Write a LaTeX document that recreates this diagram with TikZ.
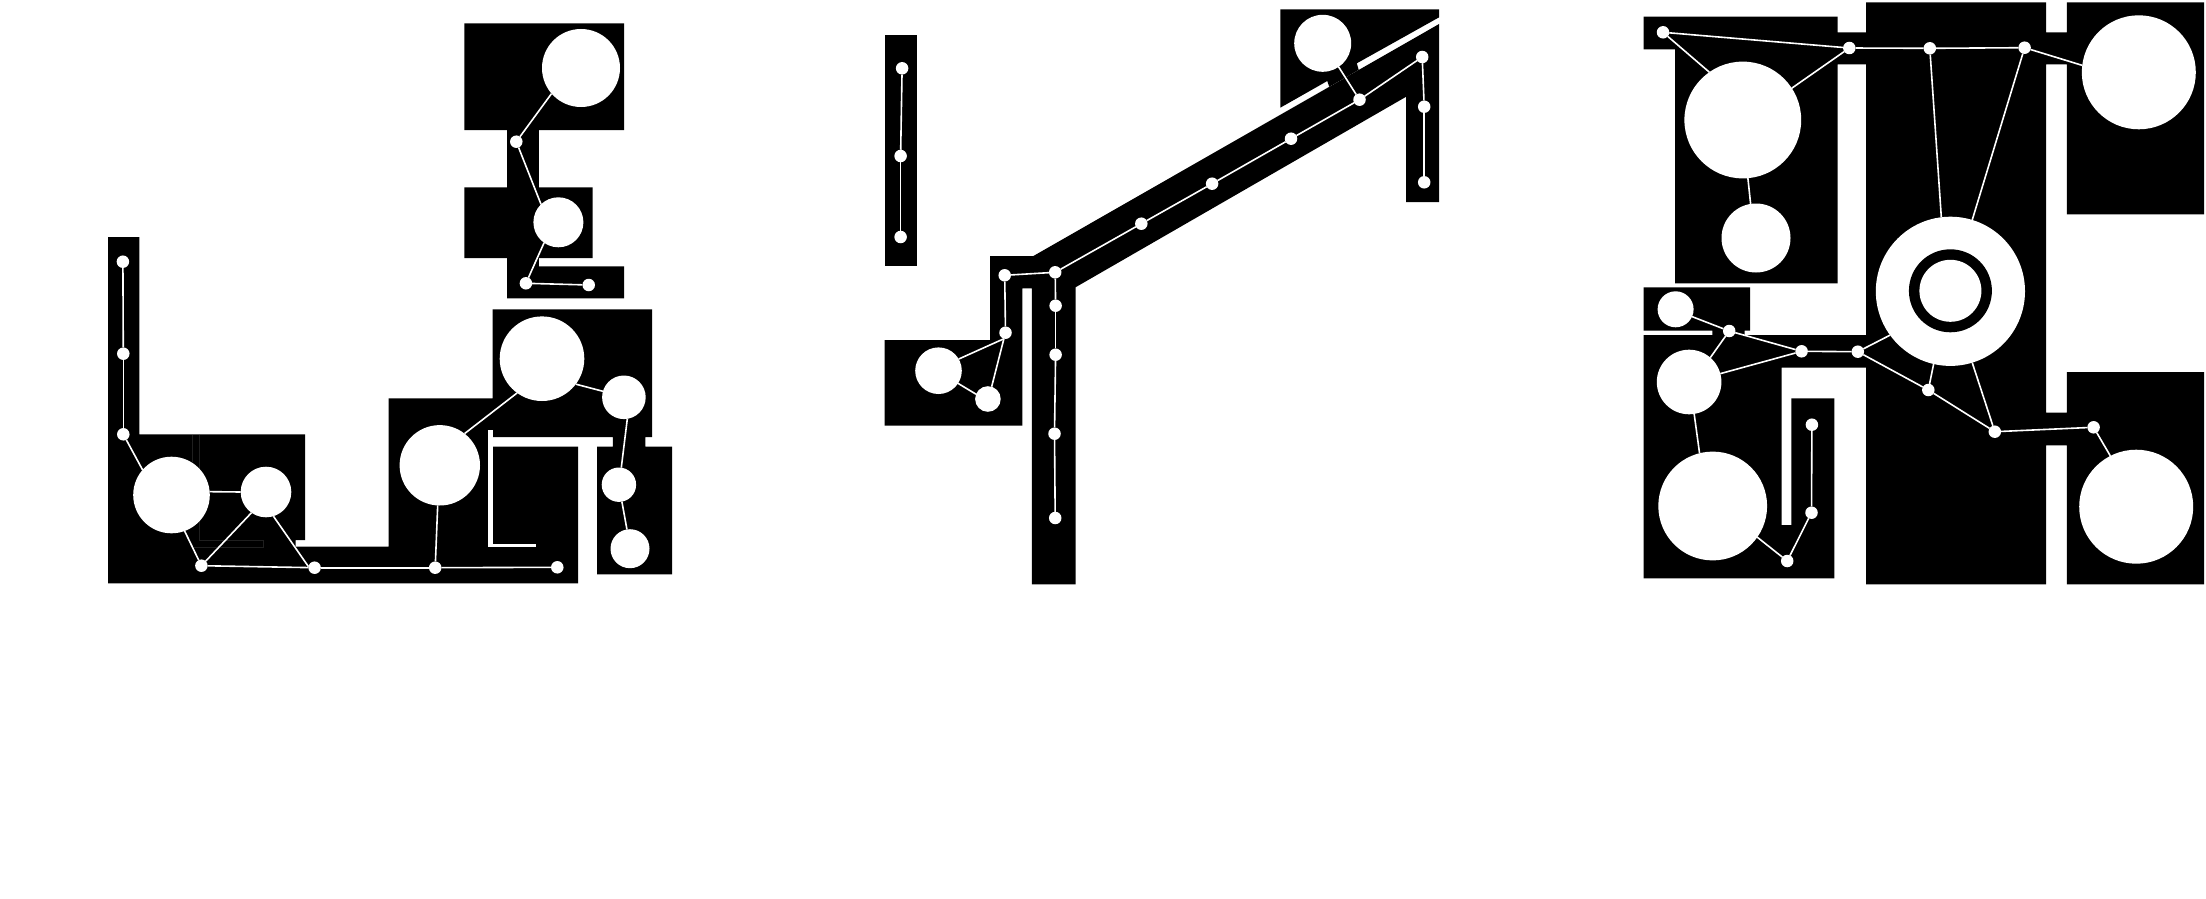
\documentclass[tikz,border=0pt]{standalone}
\tikzset{
  wall/.style={fill=black},
  gap/.style={fill=white},
  faint/.style={draw=black!88,line width=0.8pt},
  link/.style={draw=white,line width=1.6pt},
  room/.style={circle,fill=white,inner sep=0pt,outer sep=0pt,minimum size=#1},
  door/.style={room=12.5pt},
  hole/.style={circle,fill=black,inner sep=0pt,outer sep=0pt,minimum size=#1}
}
\begin{document}
\begin{tikzpicture}[x=1pt,y=-1pt]
    \useasboundingbox (0,0) rectangle (2206,899);
    % left plan, walls
    \fill [wall] (464.3,23.3) -- (624.2,23.3) -- (624.2,130) -- (538.9,130) -- (538.9,187.3) -- (592.5,187.3) -- (592.5,258) -- (538.9,258) -- (538.9,266.3) -- (624.2,266.3) -- (624.2,298.3) -- (507.1,298.3) -- (507.1,258) -- (464.3,258) -- (464.3,187.3) -- (507.1,187.3) -- (507.1,130) -- (464.3,130) -- cycle;
    \fill [wall] (108,237) -- (139.4,237) -- (139.4,434.3) -- (305,434.3) -- (305,540) -- (295.5,540) -- (295.5,546.7) -- (388.5,546.7) -- (388.5,398.3) -- (492.6,398.3) -- (492.6,309.3) -- (652.2,309.3) -- (652.2,437) -- (645.3,437) -- (645.3,446.7) -- (672,446.7) -- (672,574.3) -- (597.1,574.3) -- (597.1,446.7) -- (612.8,446.7) -- (612.8,437) -- (492.6,437) -- (492.6,446.7) -- (578,446.7) -- (578,583.3) -- (108,583.3) -- cycle;
    \fill [gap] (488.4,430) rectangle (492.6,546.7);\fill [gap] (488.4,543.7) rectangle (535.8,546.7);
    \draw [faint] (199,435) -- (199,540) -- (263.3,540) -- (263.3,547.3) -- (193,547.3);\draw [faint] (192.7,435) -- (192.7,462);
    % left plan, rooms
    \node [room=78pt] (a1) at (581,68) {};\node [room=50pt] (a2) at (558.4,222.3) {};
    \node [door] (a3) at (516.3,141.7) {};\node [door] (a4) at (525.9,283.3) {};\node [door] (a5) at (588.7,285) {};
    \node [door] (b1) at (122.9,261.7) {};\node [door] (b2) at (123.3,353.7) {};\node [door] (b3) at (123.3,434.3) {};
    \node [room=76.6pt] (b4) at (171.5,495) {};\node [room=50.6pt] (b5) at (266,492) {};
    \node [door] (b6) at (201.4,565.7) {};\node [door] (b7) at (314.6,567.7) {};\node [door] (b8) at (435.2,567.7) {};\node [door] (b9) at (557.3,567.3) {};
    \node [room=80.4pt] (b10) at (439.8,465.3) {};\node [room=84.6pt] (b11) at (542,358.7) {};
    \node [room=43.6pt] (b12) at (623.9,397.3) {};\node [room=34.4pt] (b13) at (618.9,484.7) {};\node [room=39pt] (b14) at (630,548.7) {};
    % left plan, links
    \draw [link] (a1.221) -- (a3);\draw [link] (a3) -- (a2.134);\draw [link] (a2.235) -- (a4);\draw [link] (a4) -- (a5);
    \draw [link] (b1) -- (b2);\draw [link] (b2) -- (b3);\draw [link] (b3) -- (b4.139);\draw [link] (b4.5) -- (b5.180);\draw [link] (b4.-70) -- (b6);\draw [link] (b5.235) -- (b6);\draw [link] (b5.-73) -- (b7.170);
    \draw [link] (b6) -- (b7);\draw [link] (b7) -- (b8);\draw [link] (b8) -- (b9);\draw [link] (b8) -- (b10.-93);\draw [link] (b10.52) -- (b11.234);\draw [link] (b11.-37) -- (b12.164);\draw [link] (b12.-81) -- (b13.82);\draw [link] (b13.-80) -- (b14.99);

    % middle plan, walls
    \fill [wall] (884.5,35) rectangle (917.1,265.7);
    \fill [wall] (884.5,340) -- (990.2,340) -- (990.2,256) -- (1033.4,256) -- (1439.1,24) -- (1439.1,202) -- (1406.2,202) -- (1406.2,96.7) -- (1075.5,287.3) -- (1075.5,584.3) -- (1031.9,584.3) -- (1031.9,288.3) -- (1022.3,288.3) -- (1022.3,425.7) -- (884.5,425.7) -- cycle;
    \fill [wall] (1280.3,9.3) -- (1439.1,9.3) -- (1439.1,17.3) -- (1356.8,63.3) -- (1358.7,69.9) -- (1329.2,86.8) -- (1327.3,81) -- (1280.3,107.7) -- cycle;
    % middle plan, rooms
    \node [door] (c1) at (902.1,68.3) {};\node [door] (c2) at (900.6,156) {};\node [door] (c3) at (900.6,237) {};
    \node [room=57pt] (d1) at (1322.7,43.3) {};\node [door] (d2) at (1359.5,99.7) {};\node [door] (d3) at (1422.2,57) {};\node [door] (d4) at (1424.2,106.7) {};\node [door] (d5) at (1424.2,182.3) {};
    \node [door] (d6) at (1291,138.7) {};\node [door] (d7) at (1212.1,183.7) {};\node [door] (d8) at (1141.3,223.7) {};\node [door] (d9) at (1055.2,272.3) {};\node [door] (d10) at (1004.7,275.3) {};
    \node [door] (d11) at (1055.6,305.7) {};\node [door] (d12) at (1055.6,354.7) {};\node [door] (d13) at (1054.5,433.7) {};\node [door] (d14) at (1055.2,518) {};
    \node [door] (d15) at (1005.5,332.7) {};\node [room=46.6pt] (d16) at (938.5,370.7) {};\node [room=25.6pt] (d17) at (987.9,399) {};
    % middle plan, links
    \draw [link] (c1) -- (c2);\draw [link] (c2) -- (c3);
    \draw [link] (d1.-56) -- (d2);\draw [link] (d2) -- (d3);\draw [link] (d3) -- (d4);\draw [link] (d4) -- (d5);\draw [link] (d2) -- (d6);\draw [link] (d6) -- (d7);\draw [link] (d7) -- (d8);\draw [link] (d8) -- (d9);
    \draw [link] (d9) -- (d10);\draw [link] (d10) -- (d15);\draw [link] (d9) -- (d11);\draw [link] (d11) -- (d12);\draw [link] (d12) -- (d13);\draw [link] (d13) -- (d14);
    \draw [link] (d15.255) -- (d16.30);\draw [link] (d15.255) -- (d17.73);\draw [link] (d16.-33) -- (d17.158);

    % right plan, walls
    \fill [wall] (1643.6,16.7) -- (1837.6,16.7) -- (1837.6,32.3) -- (1866.2,32.3) -- (1866.2,2.3) -- (2046.2,2.3) -- (2046.2,32.3) -- (2066.8,32.3) -- (2066.8,2.3) -- (2204.2,2.3) -- (2204.2,214.3) -- (2066.8,214.3) -- (2066.8,64.3) -- (2046.2,64.3) -- (2046.2,412.7) -- (2066.8,412.7) -- (2066.8,372) -- (2204.2,372) -- (2204.2,584.3) -- (2066.8,584.3) -- (2066.8,445.3) -- (2046.2,445.3) -- (2046.2,584.3) -- (1866.2,584.3) -- (1866.2,367.7) -- (1781.7,367.7) -- (1781.7,525) -- (1791.3,525) -- (1791.3,398.3) -- (1834.3,398.3) -- (1834.3,578.3) -- (1643.6,578.3) -- (1643.6,335) -- (1712.3,335) -- (1712.3,330.7) -- (1643.6,330.7) -- (1643.6,287.3) -- (1750.1,287.3) -- (1750.1,330.7) -- (1744.6,330.7) -- (1744.6,335) -- (1866.2,335) -- (1866.2,64.3) -- (1837.6,64.3) -- (1837.6,283.3) -- (1675.2,283.3) -- (1675.2,49.3) -- (1643.6,49.3) -- cycle;
    % right plan, rooms
    \node [door] (e1) at (1663,32.3) {};\node [door] (e2) at (1849.3,48) {};\node [door] (e3) at (1929.8,48.3) {};\node [door] (e4) at (2024.6,47.7) {};
    \node [room=116.8pt] (e5) at (1742.8,120) {};\node [room=69pt] (e6) at (1756,238) {};\node [room=114pt] (e7) at (2138.8,72.3) {};
    \node [room=149.2pt] (f1) at (1950.4,291.3) {};\node [hole=83pt] (f2) at (1950.4,290.8) {};\node [room=62pt] (f3) at (1950.4,290.8) {};
    \node [room=36pt] (g1) at (1675.6,309.3) {};\node [door] (g2) at (1729.2,331) {};\node [door] (g3) at (1801.6,351.3) {};\node [door] (g4) at (1857.8,351.7) {};
    \node [door] (g5) at (1928.3,390) {};\node [door] (g6) at (1994.8,431.7) {};\node [door] (g7) at (2093.6,427.3) {};
    \node [room=64.6pt] (g8) at (1689.1,382) {};\node [room=108.8pt] (g9) at (1712.7,506) {};\node [room=114pt] (g10) at (2136.2,506.7) {};
    \node [door] (g11) at (1811.9,424.7) {};\node [door] (g12) at (1811.5,512.7) {};\node [door] (g13) at (1787.2,561) {};
    % right plan, links
    \draw [link] (e1) -- (e2);\draw [link] (e1) -- (e5.125);\draw [link] (e2) -- (e5.33);\draw [link] (e2) -- (e3);\draw [link] (e3) -- (e4);\draw [link] (e4) -- (e7.173);\draw [link] (e5.-85) -- (e6.99);
    \draw [link] (e3) -- (f1.97);\draw [link] (e4) -- (f1.73);
    \draw [link] (g1.-24) -- (g2);\draw [link] (g2) -- (g8.49);\draw [link] (g2) -- (g3);\draw [link] (g8.15) -- (g3);\draw [link] (g3) -- (g4);\draw [link] (g4) -- (f1.216);\draw [link] (g4) -- (g5);\draw [link] (g5) -- (f1.257);
    \draw [link] (g5) -- (g6);\draw [link] (f1.-73) -- (g6);\draw [link] (g6) -- (g7);\draw [link] (g7) -- (g10.117);
    \draw [link] (g8.-81) -- (g9.104);\draw [link] (g9.-35) -- (g13);\draw [link] (g13) -- (g12);\draw [link] (g12) -- (g11);
\end{tikzpicture}
\end{document}
